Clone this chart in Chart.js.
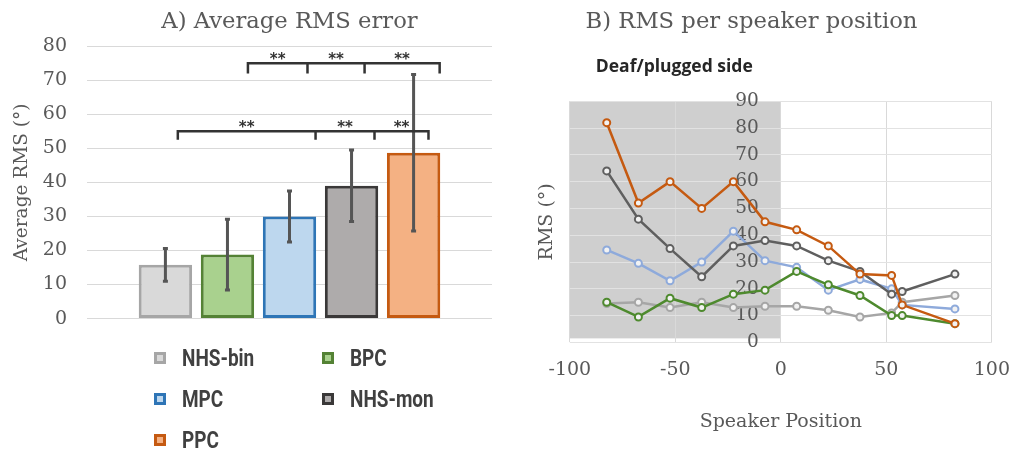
<!DOCTYPE html>
<html>
<head>
<meta charset="utf-8">
<style>
  body { margin: 0; background: #fff; width: 1026px; height: 454px; position: relative; overflow: hidden; }
  #chartA { position: absolute; left: 0; top: 0; }
  #chartB { position: absolute; left: 477px; top: 0; }
  #legend { position: absolute; left: 154px; top: 342px; display: grid; grid-template-columns: 168px 160px; row-gap: 9px; }
  .item { display: flex; align-items: center; height: 32px; }
  .box { width: 6px; height: 6px; border: 3px solid; margin-right: 16px; }
  .lab { font-family: Roboto, sans-serif; font-weight: bold; font-size: 24px; color: #404040; transform: scaleX(0.79); transform-origin: left center; }
</style>
</head>
<body>
<canvas id="chartA" width="500" height="350"></canvas>
<canvas id="chartB" width="549" height="454"></canvas>
<div id="legend"></div>

<script src="https://cdn.jsdelivr.net/npm/chart.js"></script>
<script>
  // ---- data ----
  const groups = ['NHS-bin', 'BPC', 'MPC', 'NHS-mon', 'PPC'];
  const avgRms = [15.8, 18.8, 30, 39, 48.7];
  const rmsErr = [4.8, 10.4, 7.5, 10.5, 23];
  const fillColors = ['#d9d9d9', '#a9d18e', '#bdd7ee', '#aeabab', '#f4b183'];
  const edgeColors = ['#a6a6a6', '#548235', '#2e75b6', '#3a3838', '#c55a11'];

  // significance brackets: level, tick positions in bar-index units
  const upperBracket = { level: 75, drop: 3, at: [1.33, 2.29, 3.21, 4.42] };
  const lowerBracket = { level: 55, drop: 2.5, at: [0.2, 2.42, 3.37, 4.24] };

  const speakerPos = [-82.5, -67.5, -52.5, -37.5, -22.5, -7.5, 7.5, 22.5, 37.5, 52.5, 57.5, 82.5];
  const nhsBin = [14.5, 15, 13, 15, 13, 13.5, 13.5, 12, 9.5, 11, 15, 17.5];
  const bpc    = [15, 9.5, 16.5, 13, 18, 19.5, 26.5, 21.5, 17.5, 10, 10, 7];
  const mpc    = [34.5, 29.5, 23, 30, 41.5, 30.5, 28, 19.5, 23.5, 20, 14, 12.5];
  const nhsMon = [64, 46, 35, 24.5, 36, 38, 36, 30.5, 26.5, 18, 19, 25.5];
  const ppc    = [82, 52, 60, 50, 60, 45, 42, 36, 25.5, 25, 14, 7];
  const lineColors = ['#a6a6a6', '#4e8a2e', '#8eaadb', '#5f5f5f', '#c55a11'];
  const shadeX = [-100, 0];
  const shadeY = [1.5, 90];

  const serif = 'DejaVu Serif';
  const grey = '#595959';

  // ---- legend (HTML) ----
  const legend = document.getElementById('legend');
  groups.forEach((g, i) => {
    const d = document.createElement('div');
    d.className = 'item';
    d.innerHTML = `<span class="box" style="border-color:${edgeColors[i]};background:${fillColors[i]}"></span><span class="lab">${g}</span>`;
    legend.appendChild(d);
  });

  // ---- panel A ----
  const errorBars = {
    id: 'errorBars',
    afterDatasetsDraw(chart) {
      const c = chart.ctx, y = chart.scales.y;
      c.save();
      c.strokeStyle = '#555';
      c.lineWidth = 3;
      chart.data.datasets.forEach((ds, i) => {
        const bar = chart.getDatasetMeta(i).data[0];
        const v = ds.data[0], e = rmsErr[i];
        const top = y.getPixelForValue(v + e), bot = y.getPixelForValue(v - e);
        c.beginPath();
        c.moveTo(bar.x, top); c.lineTo(bar.x, bot);
        c.moveTo(bar.x - 2.5, top); c.lineTo(bar.x + 2.5, top);
        c.moveTo(bar.x - 2.5, bot); c.lineTo(bar.x + 2.5, bot);
        c.stroke();
      });
      c.restore();
    }
  };

  const brackets = {
    id: 'brackets',
    afterDatasetsDraw(chart) {
      const c = chart.ctx, y = chart.scales.y;
      const xs = chart.data.datasets.map((ds, i) => chart.getDatasetMeta(i).data[0].x);
      const px = t => { const k = Math.min(Math.floor(t), xs.length - 2); return xs[k] + (t - k) * (xs[k + 1] - xs[k]); };
      c.save();
      c.strokeStyle = '#333';
      c.lineWidth = 2.5;
      c.fillStyle = '#333';
      c.font = 'bold 15px "DejaVu Sans"';
      c.textAlign = 'center';
      c.textBaseline = 'middle';
      [upperBracket, lowerBracket].forEach(b => {
        const ly = y.getPixelForValue(b.level), dy = y.getPixelForValue(b.level - b.drop);
        const p = b.at.map(px);
        c.beginPath();
        c.moveTo(p[0], dy); c.lineTo(p[0], ly); c.lineTo(p[p.length - 1], ly); c.lineTo(p[p.length - 1], dy);
        for (let k = 1; k < p.length - 1; k++) { c.moveTo(p[k], ly); c.lineTo(p[k], dy); }
        c.stroke();
        for (let k = 0; k < p.length - 1; k++) c.fillText('**', (p[k] + p[k + 1]) / 2, ly - 3);
      });
      c.restore();
    }
  };

  new Chart(document.getElementById('chartA'), {
    type: 'bar',
    data: {
      labels: [''],
      datasets: groups.map((g, i) => ({
        label: g,
        data: [avgRms[i]],
        backgroundColor: fillColors[i],
        borderColor: edgeColors[i],
        borderWidth: 3,
        borderSkipped: false,
        categoryPercentage: 0.766,
        barPercentage: 0.86
      }))
    },
    options: {
      responsive: false,
      animation: false,
      layout: { padding: { left: 8, right: 8, top: 0, bottom: 5 } },
      plugins: {
        legend: { display: false },
        tooltip: { enabled: false },
        title: {
          display: true, fullSize: false, text: 'A) Average RMS error', color: grey,
          font: { family: serif, size: 22.7, weight: 'normal' },
          padding: { top: 8, bottom: 11 }
        }
      },
      scales: {
        x: { display: false },
        y: {
          min: 0, max: 80,
          afterFit: s => { s.width = 79; },
          ticks: { stepSize: 10, color: grey, padding: 20, font: { family: serif, size: 19 } },
          grid: { color: '#d9d9d9', drawTicks: false },
          border: { display: false },
          title: { display: true, text: 'Average RMS (°)', color: grey, font: { family: serif, size: 18.5 }, padding: { top: 3, bottom: 2 } }
        }
      }
    },
    plugins: [errorBars, brackets]
  });

  // ---- panel B ----
  const shade = {
    id: 'shade',
    beforeDraw(chart) {
      const c = chart.ctx, x = chart.scales.x, y = chart.scales.y;
      const x0 = x.getPixelForValue(shadeX[0]), x1 = x.getPixelForValue(shadeX[1]);
      const y0 = y.getPixelForValue(shadeY[1]), y1 = y.getPixelForValue(shadeY[0]);
      c.save();
      c.fillStyle = '#cfcfcf';
      c.fillRect(x0, y0, x1 - x0, y1 - y0);
      c.fillStyle = '#262626';
      c.font = 'bold 17.5px "Open Sans"';
      c.textBaseline = 'middle';
      c.fillText('Deaf/plugged side', x0 + 26, 67);
      c.restore();
    }
  };

  const series = [nhsBin, bpc, mpc, nhsMon, ppc];
  const drawOrder = [5, 3, 4, 2, 1];

  new Chart(document.getElementById('chartB'), {
    type: 'line',
    data: {
      datasets: groups.map((g, i) => ({
        label: g,
        data: speakerPos.map((p, k) => ({ x: p, y: series[i][k] })),
        borderColor: lineColors[i],
        backgroundColor: '#f2f2f2',
        pointBorderColor: lineColors[i],
        pointBackgroundColor: '#f2f2f2',
        borderWidth: 2.5,
        pointRadius: 3.5,
        pointBorderWidth: 2,
        order: drawOrder[i]
      }))
    },
    options: {
      responsive: false,
      animation: false,
      layout: { padding: { left: 22, right: 22, top: 0, bottom: 8 } },
      plugins: {
        legend: { display: false },
        tooltip: { enabled: false },
        title: {
          display: true, text: 'B) RMS per speaker position', color: grey,
          font: { family: serif, size: 22.7, weight: 'normal' },
          padding: { top: 8, bottom: 66 }
        }
      },
      scales: {
        x: {
          type: 'linear', min: -100, max: 100,
          ticks: { stepSize: 50, color: grey, padding: 16, font: { family: serif, size: 19 } },
          grid: { color: '#d9d9d9', drawTicks: false },
          border: { display: false },
          title: { display: true, text: 'Speaker Position', color: grey, font: { family: serif, size: 19 }, padding: { top: 13, bottom: 13 } }
        },
        y: {
          type: 'linear', min: 0, max: 90,
          // labels sit just left of the zero line
          position: { x: -10.4 },
          ticks: { stepSize: 10, color: grey, font: { family: serif, size: 18.5 } },
          grid: { color: '#e2e2e2', drawTicks: false },
          border: { display: false }
        },
        yTitle: {
          type: 'linear', position: 'left', min: 0, max: 90,
          ticks: { display: false },
          grid: { display: false },
          border: { display: false },
          title: { display: true, text: 'RMS (°)', color: grey, font: { family: serif, size: 19 }, padding: { top: 37, bottom: 3 } }
        }
      }
    },
    plugins: [shade]
  });
</script>
</body>
</html>
